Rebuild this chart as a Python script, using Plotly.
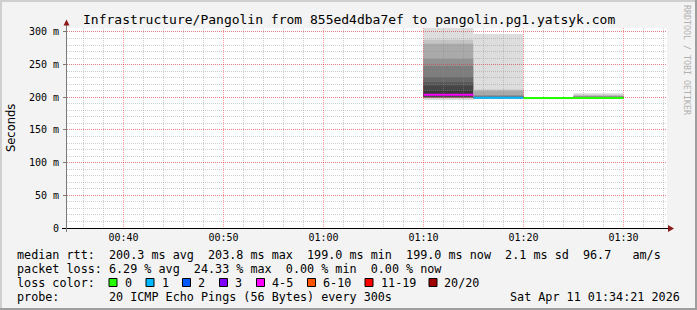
import plotly.graph_objects as go
import numpy as np

# ---------------- data ----------------
DAY = "2026-04-11"
bin_start = ["01:10:00", "01:15:00", "01:20:00", "01:25:00"]
bin_end = ["01:15:00", "01:20:00", "01:25:00", "01:30:00"]
loss_pct = [24.33, 0.83, 0.0, 0.0]          # packet loss per step (%)
# sorted RTT samples (ms) of the 20 ping slots per step
pings_1 = [196.0, 198.5, 199.0, 199.3, 199.6, 200.0, 200.5, 201.0, 202.0, 202.1,
           205.5, 210.0, 218.0, 223.0, 231.0, 248.0, 259.0, 282.0, 288.0, 306.0]
pings_2 = [198.0, 198.2, 198.4, 198.5, 198.6, 198.7, 198.8, 198.9, 199.0, 199.1,
           199.5, 199.8, 200.2, 200.5, 201.0, 202.0, 203.6, 209.7, 212.0, 297.0]
pings_3 = [197.2, 198.5, 198.7, 198.8, 198.9, 199.0, 199.0, 199.05, 199.1, 199.1,
           199.1, 199.15, 199.2, 199.2, 199.25, 199.3, 199.35, 199.4, 199.5, 199.8]
pings_4 = [198.3, 198.4, 198.5, 198.55, 198.6, 198.65, 198.7, 198.75, 198.8, 198.9,
           199.1, 199.4, 199.7, 200.0, 200.3, 200.8, 201.5, 202.5, 203.8, 206.2]
pings = [pings_1, pings_2, pings_3, pings_4]
PINGS_PER_STEP = 20

loss_labels = ["0", "1", "2", "3", "4-5", "6-10", "11-19", "20/20"]
loss_limits = [0, 1, 2, 3, 5, 10, 19, 20]
loss_colors = ["#26ff00", "#00b8ff", "#0059ff", "#7e00ff", "#ff00ff", "#ff5500", "#ff0000", "#a10000"]

y_tick_vals = [0, 50, 100, 150, 200, 250, 300]
y_tick_text = ["0", "50 m", "100 m", "150 m", "200 m", "250 m", "300 m"]

title = "Infrastructure/Pangolin from 855ed4dba7ef to pangolin.pg1.yatsyk.com"
rtt_stats = ["200.3 ms avg", "203.8 ms max", "199.0 ms min", "199.0 ms now", "2.1 ms sd", "96.7   am/s"]
loss_stats = ["6.29 % avg", "24.33 % max", "0.00 % min", "0.00 % now"]
probe_text = "20 ICMP Echo Pings (56 Bytes) every 300s"
stamp_text = "Sat Apr 11 01:34:21 2026"

# ---------------- geometry helpers (pixel -> paper) ----------------
W, H = 697, 310
L, R, T, B = 67, 667, 28, 228
def px(x):
    return (x - L) / (R - L)
def py(y):
    return (B - y) / (B - T)

MONO = "DejaVu Sans Mono"
shapes = []
annotations = []

def loss_color(lost):
    for lim, col in zip(loss_limits, loss_colors):
        if lost <= lim + 1e-9:
            return col
    return loss_colors[-1]

# ---------------- smoke (drawn under the grid, like rrdtool) ----------------
for s, e, pv in zip(bin_start, bin_end, pings):
    n = len(pv)
    half = n / 2.0
    for k in range(1, n // 2 + 1):
        t = max(0.0, (half - k) / (half - 1))
        g = int(50 + 171 * t ** 1.4)
        col = "#%02x%02x%02x" % (g, g, g)
        shapes.append(dict(type="rect", xref="x", yref="y", layer="below",
                           x0=f"{DAY} {s}", x1=f"{DAY} {e}", y0=pv[k - 1], y1=pv[n - k],
                           fillcolor=col, line=dict(width=0)))

fig = go.Figure()
for s, e, lp, pv in zip(bin_start, bin_end, loss_pct, pings):
    med = float(np.median(pv))
    lost = lp / 100.0 * PINGS_PER_STEP
    fig.add_trace(go.Scatter(x=[f"{DAY} {s}", f"{DAY} {e}"], y=[med, med], mode="lines",
                             line=dict(color=loss_color(lost), width=2), hoverinfo="skip",
                             showlegend=False))

# ---------------- frame (rrdtool 3d border) ----------------
def prect(x0, y0, x1, y1, col):
    shapes.append(dict(type="rect", xref="paper", yref="paper", layer="above",
                       x0=px(x0), x1=px(x1), y0=py(y0), y1=py(y1),
                       fillcolor=col, line=dict(width=0)))

prect(0, 0, W, 2, "#cfcfcf")
prect(0, 0, 2, H, "#cfcfcf")
prect(W - 2, 0, W, H, "#9e9e9e")
prect(0, H - 2, W, H, "#9e9e9e")

# axes lines + arrows
shapes.append(dict(type="line", xref="paper", yref="paper", x0=px(62), x1=px(669),
                   y0=py(228.5), y1=py(228.5), line=dict(color="#000000", width=1)))
shapes.append(dict(type="line", xref="paper", yref="paper", x0=px(66.5), x1=px(66.5),
                   y0=py(232), y1=py(24), line=dict(color="#7a7a7a", width=1)))
ARROW = "#8b1a1a"
shapes.append(dict(type="path", xref="paper", yref="paper",
                   path=f"M {px(668)},{py(225)} L {px(674)},{py(228.5)} L {px(668)},{py(232)} Z",
                   fillcolor=ARROW, line=dict(width=0)))
shapes.append(dict(type="path", xref="paper", yref="paper",
                   path=f"M {px(63.5)},{py(25.5)} L {px(66.5)},{py(19.5)} L {px(69.5)},{py(25.5)} Z",
                   fillcolor=ARROW, line=dict(width=0)))

# ---------------- texts ----------------
TXT = "#000000"
annotations.append(dict(text=title, xref="paper", yref="paper", x=px(348.5), y=py(19),
                        xanchor="center", yanchor="middle", showarrow=False,
                        font=dict(family=MONO, size=13, color=TXT)))
annotations.append(dict(text="Seconds", xref="paper", yref="paper", x=px(11), y=py(128),
                        xanchor="center", yanchor="middle", showarrow=False, textangle=-90,
                        font=dict(family="DejaVu Sans", size=11.5, color=TXT)))
annotations.append(dict(text="RRDTOOL / TOBI OETIKER", xref="paper", yref="paper", x=px(687), y=py(60),
                        xanchor="center", yanchor="middle", showarrow=False, textangle=90,
                        font=dict(family=MONO, size=8.3, color="#b0b0b0")))

LEG = 11.75
def ltext(t, x, y, anchor="left"):
    annotations.append(dict(text=t.replace(" ", "&nbsp;"), xref="paper", yref="paper", x=px(x), y=py(y),
                            xanchor=anchor, yanchor="middle", showarrow=False, borderpad=0,
                            font=dict(family=MONO, size=LEG, color=TXT)))

ltext("median rtt:  " + "  ".join(rtt_stats), 16, 255)
ltext("packet loss: " + "  ".join(loss_stats), 16, 268.5)
ltext("loss color:", 16, 282.5)
box_x = [109, 146, 182.5, 219.5, 256.5, 307.5, 365, 429]
for lab, col, bx in zip(loss_labels, loss_colors, box_x):
    shapes.append(dict(type="rect", xref="paper", yref="paper",
                       x0=px(bx), x1=px(bx + 8), y0=py(278.5), y1=py(286.5),
                       fillcolor=col, line=dict(color="#000000", width=1)))
    ltext(lab, bx + 14.5, 282.5)
ltext("probe:       " + probe_text, 16, 296.5)
ltext(stamp_text, 680.5, 296.5, anchor="right")

# ---------------- layout ----------------
MAJ = "rgba(255,0,0,0.38)"
MIN = "rgba(140,140,140,0.42)"
fig.update_layout(
    width=W, height=H, autosize=False,
    margin=dict(l=L, r=W - R, t=T, b=H - B, pad=0),
    paper_bgcolor="#f3f3f3", plot_bgcolor="#ffffff",
    font=dict(family=MONO, size=10, color=TXT),
    showlegend=False,
    shapes=shapes, annotations=annotations,
    xaxis=dict(type="date", range=[f"{DAY} 00:34:21", f"{DAY} 01:34:21"],
               dtick=600000, tickformat="%H:%M", showline=False, zeroline=False,
               showgrid=True, gridcolor=MAJ, griddash="1px,1px", gridwidth=1,
               ticks="", ticklabelstandoff=2,
               tickfont=dict(family=MONO, size=10, color=TXT),
               minor=dict(dtick=120000, showgrid=True, gridcolor=MIN, griddash="1px,1px", gridwidth=1),
               fixedrange=True),
    yaxis=dict(range=[0, 306.1], tickvals=y_tick_vals, ticktext=y_tick_text,
               showline=False, zeroline=False,
               showgrid=True, gridcolor=MAJ, griddash="1px,1px", gridwidth=1,
               ticks="outside", ticklen=3, tickcolor="#7a7a7a", ticklabelstandoff=2,
               tickfont=dict(family=MONO, size=10, color=TXT),
               minor=dict(dtick=10, showgrid=True, gridcolor=MIN, griddash="1px,1px", gridwidth=1),
               fixedrange=True),
)

fig.write_html("out.html", config={"displayModeBar": False, "staticPlot": True})
